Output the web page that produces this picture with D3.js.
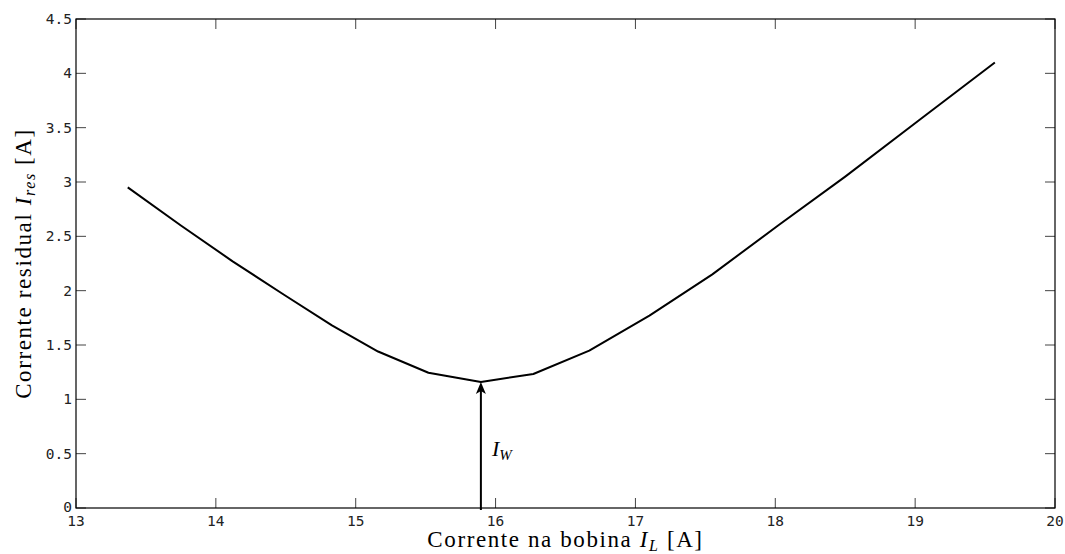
<!DOCTYPE html>
<html>
<head>
<meta charset="utf-8">
<script src="https://cdn.jsdelivr.net/npm/d3@7"></script>
<style>
  body { margin: 0; background: #fff; }
  svg { display: block; }
  .tick-label { font-family: "DejaVu Sans Mono", monospace; font-size: 14.5px; fill: #222; }
  .math { font-family: "Liberation Serif", "DejaVu Serif", serif; }
</style>
</head>
<body>
<div id="chart"></div>
<script>
// Corrente na bobina I_L [A]
var coilCurrent = [13.37, 13.75, 14.12, 14.49, 14.83, 15.16, 15.52, 15.895, 16.27, 16.67, 17.1, 17.55, 18.02, 18.5, 19.03, 19.57];
// Corrente residual I_res [A]
var residualCurrent = [2.95, 2.6, 2.27, 1.96, 1.68, 1.44, 1.245, 1.16, 1.233, 1.448, 1.77, 2.15, 2.6, 3.05, 3.57, 4.1];
var xTicks = [13, 14, 15, 16, 17, 18, 19, 20];
var yTicks = [0, 0.5, 1, 1.5, 2, 2.5, 3, 3.5, 4, 4.5];
var arrowX = 15.895; // I_W
var arrowTop = 1.16;

var width = 1065, height = 554;
var margin = { top: 19, right: 10, bottom: 46, left: 76 };
var w = width - margin.left - margin.right;
var h = height - margin.top - margin.bottom;

var svg = d3.select("#chart").append("svg")
    .attr("width", width).attr("height", height);

var g = svg.append("g")
    .attr("transform", "translate(" + margin.left + "," + margin.top + ")");

var x = d3.scaleLinear().domain([13, 20]).range([0, w]);
var y = d3.scaleLinear().domain([0, 4.5]).range([h, 0]);

var tickLen = 10;

// ticks on all four sides, pointing inward
xTicks.forEach(function (t) {
    g.append("line").attr("x1", x(t)).attr("x2", x(t)).attr("y1", h).attr("y2", h - tickLen)
        .attr("stroke", "#444").attr("stroke-width", 1);
    g.append("line").attr("x1", x(t)).attr("x2", x(t)).attr("y1", 0).attr("y2", tickLen)
        .attr("stroke", "#444").attr("stroke-width", 1);
    g.append("text").attr("class", "tick-label")
        .attr("x", x(t)).attr("y", h + 18)
        .attr("text-anchor", "middle")
        .text(d3.format("")(t));
});

yTicks.forEach(function (t) {
    g.append("line").attr("x1", 0).attr("x2", tickLen).attr("y1", y(t)).attr("y2", y(t))
        .attr("stroke", "#444").attr("stroke-width", 1);
    g.append("line").attr("x1", w).attr("x2", w - tickLen).attr("y1", y(t)).attr("y2", y(t))
        .attr("stroke", "#444").attr("stroke-width", 1);
    g.append("text").attr("class", "tick-label")
        .attr("x", -4).attr("y", y(t))
        .attr("dy", t === 0 ? "0.25em" : "0.35em")
        .attr("text-anchor", "end")
        .text(t);
});

// frame
g.append("rect").attr("x", 0).attr("y", 0).attr("width", w).attr("height", h)
    .attr("fill", "none").attr("stroke", "#000").attr("stroke-width", 1.2);

// data line
var pts = coilCurrent.map(function (v, i) { return [v, residualCurrent[i]]; });
var line = d3.line()
    .x(function (d) { return x(d[0]); })
    .y(function (d) { return y(d[1]); });

g.append("path")
    .datum(pts)
    .attr("d", line)
    .attr("fill", "none")
    .attr("stroke", "#000")
    .attr("stroke-width", 2)
    .attr("stroke-linejoin", "round");

// arrow to minimum
var ax = x(arrowX), ayTop = y(arrowTop);
g.append("line")
    .attr("x1", ax).attr("x2", ax)
    .attr("y1", h + 2).attr("y2", ayTop + 8)
    .attr("stroke", "#000").attr("stroke-width", 2);
g.append("path")
    .attr("d", "M" + ax + "," + ayTop + " L" + (ax - 5) + "," + (ayTop + 12) +
        " L" + ax + "," + (ayTop + 9) + " L" + (ax + 5) + "," + (ayTop + 12) + " Z")
    .attr("fill", "#000");

var iw = g.append("text").attr("class", "math")
    .attr("x", ax + 11).attr("y", y(0.48))
    .attr("font-size", "22px");
iw.append("tspan").attr("font-style", "italic").text("I");
iw.append("tspan").attr("font-style", "italic").attr("font-size", "15px").attr("dy", 4).text("W");

// axis titles
var xl = svg.append("text").attr("class", "math")
    .attr("x", margin.left + w / 2).attr("y", height - 7)
    .attr("text-anchor", "middle")
    .attr("font-size", "23px")
    .attr("letter-spacing", "1.6px");
xl.append("tspan").text("Corrente na bobina ");
xl.append("tspan").attr("font-style", "italic").text("I");
xl.append("tspan").attr("font-style", "italic").attr("font-size", "16px").attr("dy", 4).text("L");
xl.append("tspan").attr("dy", -4).text(" [A]");

var yl = svg.append("text").attr("class", "math")
    .attr("transform", "translate(31," + (margin.top + h / 2) + ") rotate(-90)")
    .attr("text-anchor", "middle")
    .attr("font-size", "23px")
    .attr("letter-spacing", "1.6px");
yl.append("tspan").text("Corrente residual ");
yl.append("tspan").attr("font-style", "italic").text("I");
yl.append("tspan").attr("font-style", "italic").attr("font-size", "16px").attr("dy", 4).text("res");
yl.append("tspan").attr("dy", -4).text(" [A]");
</script>
</body>
</html>
